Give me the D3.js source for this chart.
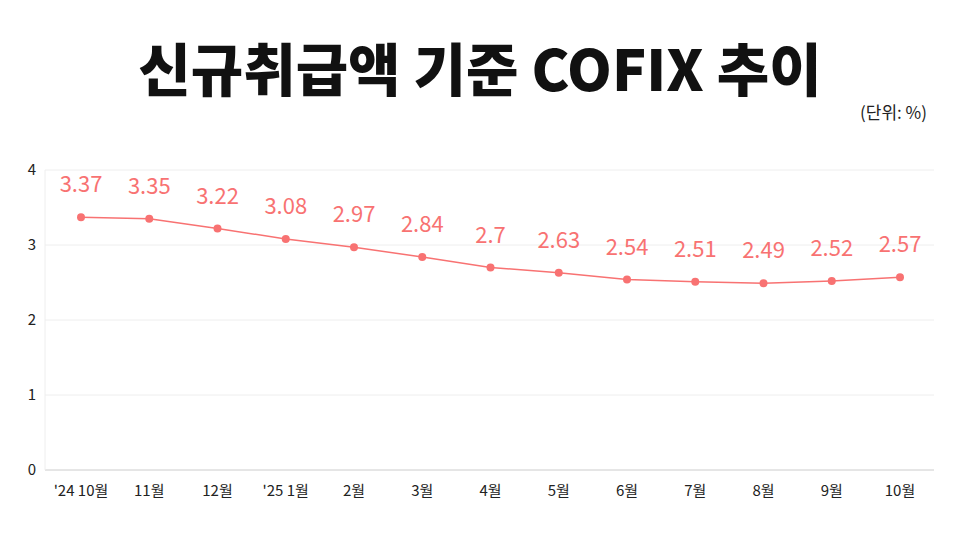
<!DOCTYPE html>
<html><head><meta charset="utf-8">
<script src="https://cdn.jsdelivr.net/npm/d3@7"></script>
<style>body{margin:0;background:#fff;font-family:"Noto Sans CJK KR","Noto Sans",sans-serif;}</style>
</head><body><div id="chart"></div>
<script>
var categories = ["'24 10월","11월","12월","'25 1월","2월","3월","4월","5월","6월","7월","8월","9월","10월"];
var values = [3.37,3.35,3.22,3.08,2.97,2.84,2.7,2.63,2.54,2.51,2.49,2.52,2.57];
var yTicks = [0,1,2,3,4];

var width = 960, height = 536, color = '#f87272';
var svg = d3.select('#chart').append('svg').attr('width', width).attr('height', height);

var x = d3.scalePoint().domain(categories).range([81, 900]);
var y = d3.scaleLinear().domain([0, 4]).range([470, 170]);

svg.append('text').attr('x', 480).attr('y', 91).attr('text-anchor', 'middle')
    .style('font-size', '57px').style('font-weight', 900).attr('fill', '#111')
    .text('신규취급액 기준 COFIX 추이');
svg.append('text').attr('x', 927).attr('y', 119).attr('text-anchor', 'end')
    .style('font-size', '17px').attr('fill', '#222').text('(단위: %)');

svg.selectAll('line.grid').data(yTicks).enter().append('line')
    .attr('x1', 45).attr('x2', 934)
    .attr('y1', function (d) { return y(d); }).attr('y2', function (d) { return y(d); })
    .attr('stroke', function (d) { return d === 0 ? '#ccc' : '#eee'; });
svg.append('line').attr('x1', 45).attr('x2', 45).attr('y1', 170).attr('y2', 470).attr('stroke', '#eee');

svg.selectAll('text.yt').data(yTicks).enter().append('text')
    .attr('x', 36).attr('y', function (d) { return y(d) + 5; }).attr('text-anchor', 'end')
    .style('font-size', '15px').attr('fill', '#222').text(function (d) { return d; });

svg.selectAll('text.xt').data(categories).enter().append('text')
    .attr('x', function (d) { return x(d); }).attr('y', 496).attr('text-anchor', 'middle')
    .style('font-size', '15px').attr('fill', '#222').text(function (d) { return d; });

var line = d3.line().x(function (d, i) { return x(categories[i]); }).y(function (d) { return y(d); });
svg.append('path').datum(values).attr('d', line).attr('fill', 'none').attr('stroke', color).attr('stroke-width', 1.5);

svg.selectAll('circle').data(values).enter().append('circle')
    .attr('cx', function (d, i) { return x(categories[i]); }).attr('cy', function (d) { return y(d); })
    .attr('r', 4).attr('fill', color);

svg.selectAll('text.vl').data(values).enter().append('text')
    .attr('x', function (d, i) { return x(categories[i]); }).attr('y', function (d) { return y(d) - 25; })
    .attr('text-anchor', 'middle').style('font-size', '22px').attr('fill', color)
    .text(function (d) { return d; });
</script></body></html>
